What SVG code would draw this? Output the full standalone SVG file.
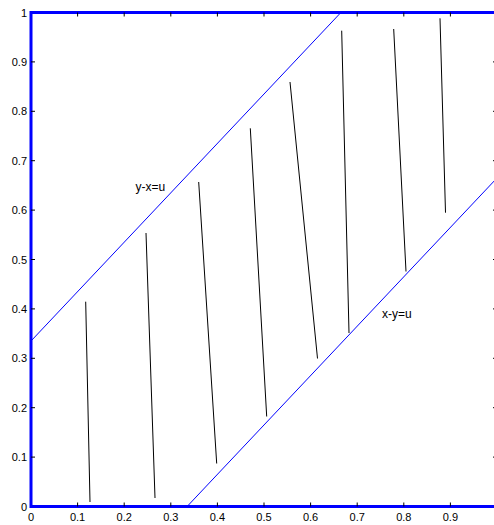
<svg xmlns="http://www.w3.org/2000/svg" width="494" height="525" viewBox="0 0 494 525">
<style>
.ax{fill:none;stroke:#0000ff;stroke-width:3}
.tk{stroke:#000;stroke-width:1;fill:none}
.bl{stroke:#0000ff;stroke-width:1;fill:none}
.seg{stroke:#000;stroke-width:1;fill:none}
.lab{font-family:"Liberation Sans",Arial,sans-serif;font-size:11px;fill:#000}
.ylab{text-anchor:end}
.xlab{text-anchor:middle}
.nm{font-family:"Liberation Sans",Arial,sans-serif;font-size:12px;fill:#000}
</style>
<rect width="494" height="525" fill="#fff"/>
<g id="axes">
<path class="ax" d="M31,506.5 L31,12.5 L497,12.5 L497,506.5 Z"/>
<g class="tk">
<path d="M77.6,506.5v-4M124.2,506.5v-4M170.8,506.5v-4M217.4,506.5v-4M264,506.5v-4M310.6,506.5v-4M357.2,506.5v-4M403.8,506.5v-4M450.4,506.5v-4"/>
<path d="M77.6,12.5v4M124.2,12.5v4M170.8,12.5v4M217.4,12.5v4M264,12.5v4M310.6,12.5v4M357.2,12.5v4M403.8,12.5v4M450.4,12.5v4"/>
<path d="M31,457.1h4M31,407.7h4M31,358.3h4M31,308.9h4M31,259.5h4M31,210.1h4M31,160.7h4M31,111.3h4M31,61.9h4"/>
<path d="M497,457.1h-4M497,407.7h-4M497,358.3h-4M497,308.9h-4M497,259.5h-4M497,210.1h-4M497,160.7h-4M497,111.3h-4M497,61.9h-4"/>
</g>
<g class="lab ylab">
<text x="27" y="510.5">0</text>
<text x="27" y="461.1">0.1</text>
<text x="27" y="411.7">0.2</text>
<text x="27" y="362.3">0.3</text>
<text x="27" y="312.9">0.4</text>
<text x="27" y="263.5">0.5</text>
<text x="27" y="214.1">0.6</text>
<text x="27" y="164.7">0.7</text>
<text x="27" y="115.3">0.8</text>
<text x="27" y="65.9">0.9</text>
<text x="27" y="16.5">1</text>
</g>
<g class="lab xlab">
<text x="31" y="521">0</text>
<text x="77.6" y="521">0.1</text>
<text x="124.2" y="521">0.2</text>
<text x="170.8" y="521">0.3</text>
<text x="217.4" y="521">0.4</text>
<text x="264" y="521">0.5</text>
<text x="310.6" y="521">0.6</text>
<text x="357.2" y="521">0.7</text>
<text x="403.8" y="521">0.8</text>
<text x="450.4" y="521">0.9</text>
</g>
</g>
<g id="boundaries">
<path id="upper" class="bl" d="M31,341 L340.9,12.5"/>
<path id="lower" class="bl" d="M187.1,506.5 L497,178"/>
</g>
<g id="segments" class="seg">
<path d="M85.7,301.7 L90,502"/>
<path d="M146,233 L155,498"/>
<path d="M198.7,182 L216.7,463.5"/>
<path d="M250.3,128.3 L266.7,416.5"/>
<path d="M290,82 L317.5,358.5"/>
<path d="M341.7,30.7 L349,333"/>
<path d="M393.7,29 L406,271.5"/>
<path d="M440,18.3 L445.5,212.7"/>
</g>
<g id="labels">
<text class="nm" x="135.5" y="191">y-x=u</text>
<text class="nm" x="382" y="317.5">x-y=u</text>
</g>
</svg>
